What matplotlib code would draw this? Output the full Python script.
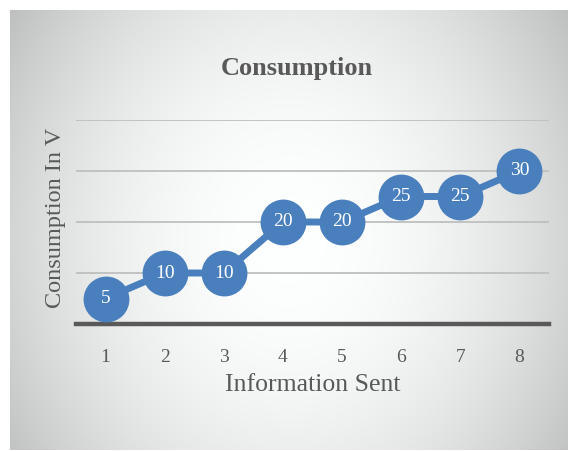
import numpy as np
import matplotlib
matplotlib.use("Agg")
import matplotlib.pyplot as plt

categories = [1, 2, 3, 4, 5, 6, 7, 8]
values = [5, 10, 10, 20, 20, 25, 25, 30]
yticks = [0, 10, 20, 30, 40]

W, H = 568, 451
fig = plt.figure(figsize=(W / 100, H / 100), dpi=100)
fig.patch.set_facecolor("white")

# background box with radial gradient
bx0, by0, bx1, by1 = 10, 10, 568, 450
bg = fig.add_axes([bx0 / W, 1 - by1 / H, (bx1 - bx0) / W, (by1 - by0) / H])
nx, ny = 300, 240
xs = np.linspace(bx0, bx1, nx)
ys = np.linspace(by0, by1, ny)
X, Y = np.meshgrid(xs, ys)
cx, cy = 290, 240
dx = np.abs(X - cx) / 280
dy = np.abs(Y - cy) / 215
b = 1 - 0.17 * dx ** 2.0 - 0.07 * dy ** 2.0
b = np.clip(b, 0.75, 1)
tint = np.array([0.995, 1.0, 1.0])
img = b[..., None] * tint[None, None, :]
img = np.clip(img, 0, 1)
bg.imshow(img, extent=[0, 1, 0, 1], origin="upper", aspect="auto")
bg.set_axis_off()

serif = ["Liberation Serif", "DejaVu Serif"]
grey = "#595959"

ax = fig.add_axes([76 / W, 1 - 324 / H, (549 - 76) / W, (324 - 120) / H])
ax.patch.set_alpha(0)
x = np.arange(len(categories))
ax.set_xlim(-0.5, len(categories) - 0.5)
ax.set_ylim(0, 40)
for yv in yticks[1:]:
    ax.axhline(yv, color="#bfbfbf", lw=1.3, zorder=1)
ax.plot(x, values, color="#4a7fbd", lw=5, marker="o", markersize=32,
        markerfacecolor="#4a7fbd", markeredgecolor="#4a7fbd", zorder=3, clip_on=False)
for xi, v in zip(x, values):
    ax.text(xi, v, str(v), ha="center", va="center", color="white",
            fontsize=14, family=serif, zorder=4)
for s in ["top", "right", "left"]:
    ax.spines[s].set_visible(False)
ax.spines["bottom"].set_color(grey)
ax.spines["bottom"].set_linewidth(3.2)
ax.spines["bottom"].set_zorder(2)
ax.set_yticks([])
ax.set_xticks(x)
ax.set_xticklabels([str(c) for c in categories], family=serif, fontsize=14, color=grey)
ax.tick_params(axis="x", length=0, pad=18)
ax.set_xlabel("Information Sent", family=serif, fontsize=18.5, color=grey, labelpad=6)

fig.text(55 / W, 1 - 218 / H, "Consumption In V", rotation=90, ha="center", va="center",
         family=serif, fontsize=17.5, color=grey)
fig.text(297 / W, 1 - 68 / H, "Consumption", ha="center", va="center",
         family=serif, fontsize=19, fontweight="bold", color=grey)

fig.savefig("out.png", dpi=100)
